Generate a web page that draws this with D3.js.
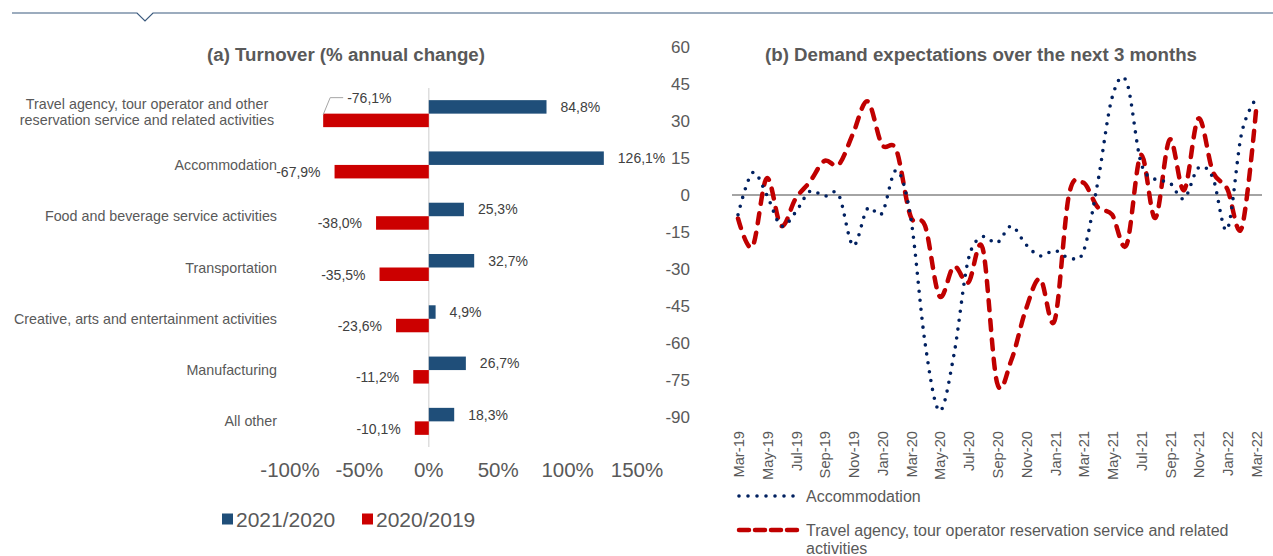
<!DOCTYPE html>
<html>
<head>
<meta charset="utf-8">
<script src="https://cdn.jsdelivr.net/npm/d3@7"></script>
<style>
  body { margin: 0; background: #fff; }
  svg { display: block; font-family: "Liberation Sans", Arial, sans-serif; }
</style>
</head>
<body>
<svg id="chart" width="1273" height="556"></svg>
<script>
// ---- (a) turnover data ----
const sectors = [
  "Travel agency, tour operator and other|reservation service and related activities",
  "Accommodation",
  "Food and beverage service activities",
  "Transportation",
  "Creative, arts and entertainment activities",
  "Manufacturing",
  "All other"
];
const change2021 = [84.8, 126.1, 25.3, 32.7, 4.9, 26.7, 18.3];
const change2020 = [-76.1, -67.9, -38.0, -35.5, -23.6, -11.2, -10.1];
const turnoverTicks = [-100, -50, 0, 50, 100, 150];
const seriesNames = ["2021/2020", "2020/2019"];

// ---- (b) demand expectations data ----
const months = [
  "Mar-19", "Apr-19", "May-19", "Jun-19", "Jul-19", "Aug-19", "Sep-19", "Oct-19", "Nov-19", "Dec-19",
  "Jan-20", "Feb-20", "Mar-20", "Apr-20", "May-20", "Jun-20", "Jul-20", "Aug-20", "Sep-20", "Oct-20",
  "Nov-20", "Dec-20", "Jan-21", "Feb-21", "Mar-21", "Apr-21", "May-21", "Jun-21", "Jul-21", "Aug-21",
  "Sep-21", "Oct-21", "Nov-21", "Dec-21", "Jan-22", "Feb-22", "Mar-22"
];
const accommodation = [
  -8, 9, 0, -12.5, -7, 1.5, -0.5, 0, -20.5, -5.5,
  -7.5, 10, -9, -60, -87.5, -65, -26.3, -17, -19.4, -12.6,
  -20, -24.7, -22.5, -25.4, -23, 5, 39.5, 46, 13.2, 6.3,
  5, -1.5, 11, 7, -14, 25, 39
];
const travelAgency = [
  -9.5, -21, 6.8, -12.5, -1.5, 5.4, 13.8, 12.3, 25, 38,
  20.5, 18.3, -8.7, -12.5, -41, -29, -35.5, -21.5, -76, -66.9,
  -46.5, -34, -51, 0, 5, -5, -8, -20.3, 16.2, -9.3,
  22.5, 2, 31, 9.5, 2.5, -13.5, 34
];
const demandTicks = [60, 45, 30, 15, 0, -15, -30, -45, -60, -75, -90];
const monthTicks = months.filter((m, i) => i % 2 === 0);
const lineNames = ["Accommodation", "Travel agency, tour operator reservation service and related|activities"];

const textColor = "#595959";
const blue = "#1F4E79", red = "#CC0000";
const navyLine = "#002060", redLine = "#C00000";
const fmt = v => d3.format(".1f")(v).replace("\u2212", "-").replace(".", ",") + "%";

const svg = d3.select("#chart");

// top decoration line with notch
svg.append("path")
  .attr("d", "M12,13 H137 L145,21 L153,13 H1273")
  .attr("fill", "none")
  .attr("stroke", "#3b5a7e")
  .attr("stroke-width", 1.2);

// ================= (a) Turnover =================
const xT = d3.scaleLinear().domain([-100, 150]).range([290, 637]);
const yT = d3.scaleBand().domain(sectors).range([88, 447]);
const ySub = d3.scaleBand().domain(seriesNames).range([-13.5, 13.5]);

svg.append("text")
  .attr("x", 346).attr("y", 61)
  .attr("text-anchor", "middle")
  .attr("font-size", 18.7).attr("font-weight", "bold")
  .attr("fill", textColor)
  .text("(a) Turnover (% annual change)");

const rows = sectors.map((s, i) => ({ sector: s, a: change2021[i], b: change2020[i] }));

// zero line
svg.append("line")
  .attr("x1", xT(0)).attr("x2", xT(0))
  .attr("y1", 88).attr("y2", 447)
  .attr("stroke", "#d9d9d9").attr("stroke-width", 1.3);

const rowG = svg.selectAll("g.row").data(rows).enter().append("g")
  .attr("class", "row")
  .attr("transform", d => `translate(0,${yT(d.sector) + yT.bandwidth() / 2})`);

rowG.append("rect")
  .attr("x", xT(0))
  .attr("y", ySub("2021/2020"))
  .attr("width", d => xT(d.a) - xT(0))
  .attr("height", ySub.bandwidth())
  .attr("fill", blue);

rowG.append("rect")
  .attr("x", d => xT(d.b))
  .attr("y", ySub("2020/2019"))
  .attr("width", d => xT(0) - xT(d.b))
  .attr("height", ySub.bandwidth())
  .attr("fill", red);

// category labels (wrapped label is centred on itself, like the original)
rowG.each(function (d) {
  const lines = d.sector.split("|");
  const multi = lines.length > 1;
  const t = d3.select(this).append("text")
    .attr("text-anchor", multi ? "middle" : "end")
    .attr("font-size", 14.3).attr("fill", textColor);
  lines.forEach((ln, k) => {
    t.append("tspan")
      .attr("x", multi ? 147 : 277)
      .attr("y", multi ? (k - 0.5) * 16 + 3 : 5)
      .text(ln);
  });
});

// value labels
rowG.append("text")
  .attr("x", d => xT(d.a) + 14)
  .attr("y", ySub("2021/2020") + ySub.bandwidth() / 2 + 5)
  .attr("font-size", 14).attr("fill", "#404040")
  .text(d => fmt(d.a));

rowG.filter((d, i) => i > 0).append("text")
  .attr("x", d => xT(d.b) - 14)
  .attr("y", ySub("2020/2019") + ySub.bandwidth() / 2 + 5.5)
  .attr("text-anchor", "end")
  .attr("font-size", 14).attr("fill", "#404040")
  .text(d => fmt(d.b));

// first red label is pulled out with a leader line
const first = rowG.filter((d, i) => i === 0);
first.append("polyline")
  .attr("points", d => `${xT(d.b)},${ySub("2020/2019") + 1} ${xT(d.b) + 7},-16 ${xT(d.b) + 20},-16`)
  .attr("fill", "none").attr("stroke", "#a6a6a6").attr("stroke-width", 1);
first.append("text")
  .attr("x", d => xT(d.b) + 24)
  .attr("y", -11)
  .attr("font-size", 14).attr("fill", "#404040")
  .text(d => fmt(d.b));

// x tick labels
svg.selectAll("text.xt").data(turnoverTicks).enter().append("text")
  .attr("class", "xt")
  .attr("x", d => xT(d)).attr("y", 477)
  .attr("text-anchor", "middle")
  .attr("font-size", 20.5).attr("fill", textColor)
  .text(d => d + "%");

// legend
const legA = svg.selectAll("g.legA").data(seriesNames).enter().append("g")
  .attr("class", "legA")
  .attr("transform", (d, i) => `translate(222,519) translate(${i * 140},0)`);
legA.append("rect")
  .attr("x", 0).attr("y", -5.5).attr("width", 11).attr("height", 11)
  .attr("fill", (d, i) => i === 0 ? blue : red);
legA.append("text")
  .attr("x", 14).attr("y", 7.5)
  .attr("font-size", 21).attr("fill", textColor)
  .text(d => d);

// ================= (b) Demand expectations =================
const xD = d3.scalePoint().domain(months).range([738, 1256]);
const yD = d3.scaleLinear().domain([-90, 60]).range([417, 47]);

svg.append("text")
  .attr("x", 981).attr("y", 61)
  .attr("text-anchor", "middle")
  .attr("font-size", 18.7).attr("font-weight", "bold")
  .attr("fill", textColor)
  .text("(b) Demand expectations over the next 3 months");

svg.selectAll("text.yt").data(demandTicks).enter().append("text")
  .attr("class", "yt")
  .attr("x", 690).attr("y", d => yD(d) + 6)
  .attr("text-anchor", "end")
  .attr("font-size", 17).attr("fill", textColor)
  .text(d => d);

svg.selectAll("text.mt").data(monthTicks).enter().append("text")
  .attr("class", "mt")
  .attr("transform", d => `translate(${xD(d) + 6},431) rotate(-90)`)
  .attr("text-anchor", "end")
  .attr("font-size", 14.7).attr("fill", textColor)
  .text(d => d);

svg.append("line")
  .attr("x1", 732).attr("x2", 1262)
  .attr("y1", yD(0)).attr("y2", yD(0))
  .attr("stroke", "#868686").attr("stroke-width", 1.5);

const line = d3.line()
  .x((d, i) => xD(months[i]))
  .y(d => yD(d))
  .curve(d3.curveCatmullRom.alpha(0));

svg.append("path")
  .datum(travelAgency)
  .attr("d", line)
  .attr("fill", "none")
  .attr("stroke", redLine)
  .attr("stroke-width", 4.5)
  .attr("stroke-linecap", "round")
  .attr("stroke-dasharray", "10 9.5");

svg.append("path")
  .datum(accommodation)
  .attr("d", line)
  .attr("fill", "none")
  .attr("stroke", navyLine)
  .attr("stroke-width", 3.6)
  .attr("stroke-linecap", "round")
  .attr("stroke-dasharray", "0 9");

// legend
const legB = svg.selectAll("g.legB").data(lineNames).enter().append("g")
  .attr("class", "legB")
  .attr("transform", (d, i) => `translate(739,${i === 0 ? 496 : 530})`);
legB.append("line")
  .attr("x1", 0).attr("x2", 61)
  .attr("stroke", (d, i) => i === 0 ? navyLine : redLine)
  .attr("stroke-width", (d, i) => i === 0 ? 3.6 : 4.5)
  .attr("stroke-linecap", "round")
  .attr("stroke-dasharray", (d, i) => i === 0 ? "0 9" : "10 6");
legB.each(function (d) {
  const t = d3.select(this).append("text")
    .attr("font-size", 16).attr("fill", textColor);
  d.split("|").forEach((ln, k) => {
    t.append("tspan").attr("x", 67).attr("y", 6 + k * 18).text(ln);
  });
});
</script>
</body>
</html>
